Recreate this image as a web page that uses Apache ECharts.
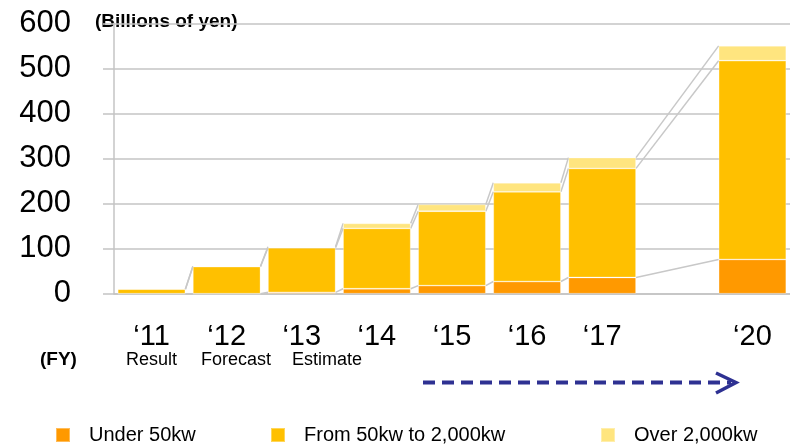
<!DOCTYPE html>
<html>
<head>
<meta charset="utf-8">
<script src="https://cdn.jsdelivr.net/npm/echarts@6/dist/echarts.min.js"></script>
<style>
  html, body { margin: 0; padding: 0; background: #fff; }
  #main { width: 790px; height: 448px; }
</style>
</head>
<body>
<div id="main"></div>
<script>
const years = ['\u201811', '\u201812', '\u201813', '\u201814', '\u201815', '\u201816', '\u201817', '', '\u201820']
const subLabels = ['Result', 'Forecast', 'Estimate']
const under50 = [0, 0, 3, 11, 18, 27, 36, null, 76]
const from50to2000 = [10, 60, 99, 134, 165, 199, 242, null, 441]
const over2000 = [0, 1, 2, 11, 15, 20, 24, null, 33]
const yTicks = [0, 100, 200, 300, 400, 500, 600]

const FONT = 'Liberation Sans, Arial, sans-serif'
const GRID_COLOR = '#C4C4C4'
const colors = ['#FF9900', '#FFC000', '#FFE57F']

// series lines: connect top of each stack level between neighbouring bars
const levels = [
  under50,
  under50.map((v, i) => (v == null ? null : v + from50to2000[i])),
  under50.map((v, i) => (v == null ? null : v + from50to2000[i] + over2000[i]))
]
const filled = years.map((y, i) => i).filter((i) => under50[i] != null)
const connectors = []
levels.forEach((lv) => {
  for (let k = 0; k < filled.length - 1; k++) {
    const a = filled[k]
    const b = filled[k + 1]
    connectors.push([a, lv[a], b, lv[b]])
  }
})

const chart = echarts.init(document.getElementById('main'))

const barStyle = (c) => ({
  color: c,
  borderColor: 'rgba(255,255,255,0.35)',
  borderWidth: 0.8
})

const option = {
  animation: false,
  textStyle: { fontFamily: FONT },
  grid: { left: 114, width: 681, top: 23.3, height: 270.4, containLabel: false },
  legend: [
    { left: 55, top: 425, data: ['Under 50kw'] },
    { left: 270, top: 425, data: ['From 50kw to 2,000kw'] },
    { left: 600, top: 425, data: ['Over 2,000kw'] }
  ].map((l) => ({
    ...l,
    padding: 0,
    icon: 'rect',
    itemWidth: 14,
    itemHeight: 14,
    selectedMode: false,
    textStyle: { fontFamily: FONT, fontSize: 20, color: '#000', padding: [0, 0, 0, 14] }
  })),
  xAxis: {
    type: 'category',
    data: years,
    axisLine: { lineStyle: { color: GRID_COLOR, width: 1.5 } },
    axisTick: { length: 4, lineStyle: { color: GRID_COLOR, width: 1.5 } },
    axisLabel: { color: '#000', fontSize: 29, margin: 29, fontFamily: FONT, interval: 0 }
  },
  yAxis: {
    type: 'value',
    min: yTicks[0],
    max: yTicks[yTicks.length - 1],
    interval: 100,
    axisLine: { show: true, lineStyle: { color: GRID_COLOR, width: 1.5 } },
    axisTick: { show: true, length: 11, lineStyle: { color: GRID_COLOR, width: 1.5 } },
    splitLine: { lineStyle: { color: GRID_COLOR, width: 1.5 } },
    axisLabel: { color: '#000', fontSize: 31, margin: 43, fontFamily: FONT }
  },
  series: [
    {
      name: 'Under 50kw',
      type: 'bar',
      stack: 'total',
      barCategoryGap: '10%',
      itemStyle: barStyle(colors[0]),
      data: under50
    },
    {
      name: 'From 50kw to 2,000kw',
      type: 'bar',
      stack: 'total',
      itemStyle: barStyle(colors[1]),
      data: from50to2000
    },
    {
      name: 'Over 2,000kw',
      type: 'bar',
      stack: 'total',
      itemStyle: barStyle(colors[2]),
      data: over2000
    },
    {
      type: 'custom',
      silent: true,
      z: 1,
      encode: { x: 0, y: 1 },
      data: connectors,
      renderItem: (params, api) => {
        const half = api.size([1, 0])[0] * 0.45
        const p0 = api.coord([api.value(0), api.value(1)])
        const p1 = api.coord([api.value(2), api.value(3)])
        return {
          type: 'line',
          shape: { x1: p0[0] + half, y1: p0[1], x2: p1[0] - half, y2: p1[1] },
          style: { stroke: '#C8C8C8', lineWidth: 1.5 }
        }
      }
    }
  ],
  graphic: [
    {
      type: 'text',
      left: 70,
      top: -15,
      style: {
        text: 'Forecast of market size for mega solar, industrial use and public facilities, approved by Ministry of Economy',
        font: '16px ' + FONT,
        fill: '#000'
      }
    },
    {
      type: 'text',
      left: 95,
      top: 12,
      style: { text: '(Billions of yen)', font: 'bold 19px ' + FONT, fill: '#000' }
    },
    {
      type: 'text',
      left: 40,
      top: 350,
      style: { text: '(FY)', font: 'bold 19px ' + FONT, fill: '#000' }
    },
    {
      type: 'text',
      left: 126,
      top: 351,
      style: { text: subLabels[0], font: '18px ' + FONT, fill: '#000' }
    },
    {
      type: 'text',
      left: 201,
      top: 351,
      style: { text: subLabels[1], font: '18px ' + FONT, fill: '#000' }
    },
    {
      type: 'text',
      left: 292,
      top: 351,
      style: { text: subLabels[2], font: '18px ' + FONT, fill: '#000' }
    },
    {
      type: 'line',
      shape: { x1: 423, y1: 382.5, x2: 731, y2: 382.5 },
      style: { stroke: '#2E3192', lineWidth: 4, lineDash: [12, 7] }
    },
    {
      type: 'polyline',
      shape: { points: [[716, 373], [736, 382.5], [716, 393]] },
      style: { stroke: '#2E3192', lineWidth: 3.5, fill: null }
    }
  ]
}

chart.setOption(option)
</script>
</body>
</html>
